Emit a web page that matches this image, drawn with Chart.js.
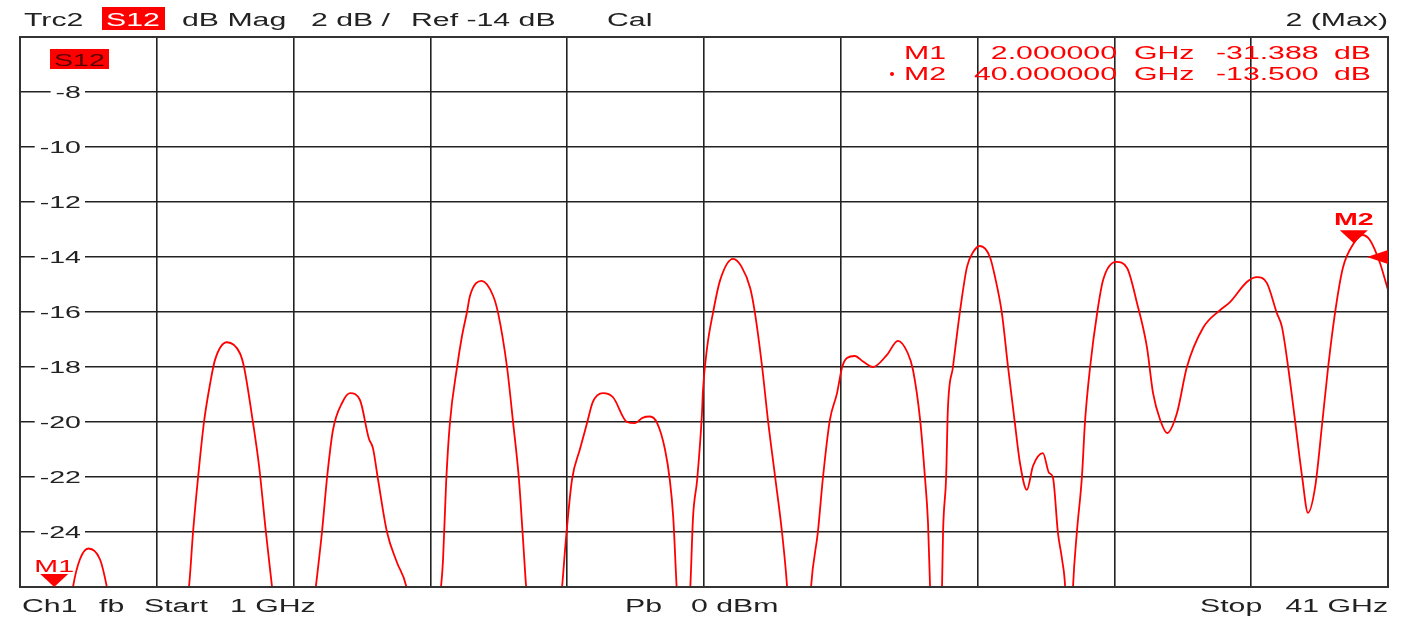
<!DOCTYPE html>
<html>
<head>
<meta charset="utf-8">
<title>Trc2 S12 dB Mag</title>
<script src="https://cdn.jsdelivr.net/npm/chart.js@4.4.1/dist/chart.umd.min.js"></script>
<style>
  html, body { margin: 0; padding: 0; background: #fff; }
  #wrap { width: 1403px; height: 617px; }
</style>
</head>
<body>
<div id="wrap"><canvas id="vna" width="1403" height="617"></canvas></div>
<script>
// sweep: 1 .. 41 GHz, S12 in dB (points below -26 dB are off the bottom of the screen)
const freqGHz = [
  1.0, 2.0, 2.55, 2.75, 3.0, 3.34, 3.54, 4.6,
  5.94, 6.06, 6.20, 6.38, 6.56, 6.70, 7.05, 7.43, 7.55, 7.81, 7.99, 8.19, 8.37, 9.0,
  9.65, 9.83, 9.98, 10.15, 10.42, 10.65, 10.94, 11.2, 11.32, 11.47, 11.73, 12.02, 12.3, 12.8,
  13.31, 13.37, 13.46, 13.57, 13.78, 13.92, 14.07, 14.16, 14.5, 14.83, 14.98, 15.24, 15.42, 15.59, 15.71, 15.8, 16.3,
  16.85, 16.96, 17.14, 17.37, 17.58, 17.75, 18.05, 18.34, 18.75, 18.98, 19.2, 19.42, 19.63, 19.86, 20.0, 20.1, 20.2, 20.4,
  20.6, 20.68, 20.8, 20.94, 20.97, 21.09, 21.26, 21.47, 21.85, 22.1, 22.35, 22.49, 22.7, 22.87, 23.08, 23.28, 23.43, 23.8,
  24.13, 24.33, 24.48, 24.68, 24.89, 25.04, 25.18, 25.41, 25.65, 25.94, 26.35, 26.67, 26.96, 27.11, 27.32, 27.46, 27.55, 27.61, 27.8,
  27.96, 27.99, 28.08, 28.13, 28.28, 28.49, 28.69, 28.87, 29.07, 29.36, 29.51, 29.71, 29.89, 30.09, 30.24, 30.44, 30.62, 30.91,
  31.09, 31.2, 31.35, 31.47, 31.56, 31.68,
  31.79, 31.9, 32.05, 32.14, 32.29, 32.5, 32.67, 33.05, 33.37, 33.66, 33.95, 34.13, 34.34, 34.54, 34.83, 35.12, 35.59,
  36.09, 36.38, 36.88, 37.17, 37.46, 37.75, 37.9, 38.08, 38.28, 38.49, 38.66, 38.87, 39.08, 39.25, 39.45, 39.68,
  40.0, 40.24, 40.47, 40.76, 41.0
];
const s12dB = [
  -33.0, -31.388, -26.0, -25.0, -24.6, -25.0, -26.0, -34.0,
  -26.0, -24.0, -22.1, -20.0, -18.6, -17.75, -17.1, -17.5, -18.0, -20.0, -21.6, -24.0, -26.0, -33.0,
  -26.0, -24.0, -22.0, -20.3, -19.3, -18.95, -19.2, -20.6, -20.95, -22.1, -24.0, -25.1, -26.0, -30.0,
  -26.0, -25.0, -22.2, -20.04, -18.0, -16.9, -16.0, -15.4, -14.87, -15.4, -16.04, -18.0, -20.04, -22.1, -24.3, -26.0, -32.0,
  -26.0, -24.3, -22.1, -21.0, -20.04, -19.27, -18.95, -19.1, -20.0, -20.04, -19.85, -19.8, -20.04, -21.0, -22.1, -23.45, -26.0, -30.0,
  -26.0, -23.45, -22.1, -19.7, -18.85, -17.3, -16.05, -14.85, -14.07, -14.36, -15.13, -16.04, -18.0, -19.93, -22.0, -24.0, -26.0, -34.0,
  -26.0, -24.0, -22.0, -19.93, -18.95, -18.0, -17.67, -17.6, -17.8, -18.0, -17.56, -17.05, -17.5, -18.1, -19.93, -22.0, -23.67, -26.0, -33.0,
  -26.0, -24.0, -22.0, -19.56, -18.0, -15.93, -14.36, -13.82, -13.6, -14.0, -14.73, -16.04, -18.0, -20.04, -21.5, -22.47, -21.6, -21.13,
  -21.85, -22.0, -24.04, -25.0, -26.0, -30.0,
  -26.0, -24.04, -22.0, -20.0, -18.0, -16.0, -14.84, -14.18, -14.4, -15.67, -17.27, -18.95, -19.93, -20.4, -19.67, -18.0, -16.58,
  -15.93, -15.64, -14.9, -14.73, -14.95, -16.04, -16.55, -18.0, -19.93, -22.0, -23.3, -22.36, -20.0, -18.0, -16.04, -14.4,
  -13.5, -13.2, -13.38, -14.2, -15.2
];

// scale setup: 2 dB / div, Ref -14 dB
const yTickLabels = [-8, -10, -12, -14, -16, -18, -20, -22, -24];
const refLevel = -14;

// markers
const markerNames = ['M1', 'M2'];
const markerFreqGHz = [2.0, 40.0];
const markerDb = [-31.388, -13.5];
const markerFreqText = ['2.000000', '40.000000'];
const markerDbText = ['-31.388', '-13.500'];
const activeMarker = 1;

const FONT = '"Liberation Sans", Arial, sans-serif';
const RED = '#ff0000';
const INK = '#222';
const STRETCH = 1.68; // the analyser font is much wider than Arial

function put(c, s, x, y, size, color, align, bold) {
  c.save();
  c.font = (bold ? 'bold ' : '') + size + 'px ' + FONT;
  c.fillStyle = color;
  c.textAlign = align || 'left';
  c.textBaseline = 'alphabetic';
  c.translate(x, y);
  c.scale(STRETCH, 1);
  c.fillText(s, 0, 0);
  c.restore();
}

function textWidth(c, s, size) {
  c.save();
  c.font = size + 'px ' + FONT;
  const w = c.measureText(s).width * STRETCH;
  c.restore();
  return w;
}

const screenText = {
  id: 'screenText',
  beforeDatasetsDraw(chart) {
    // y tick labels sit inside the grid, knocking out the line behind them
    const c = chart.ctx;
    const ys = chart.scales.y;
    ys.ticks.forEach(t => {
      if (!yTickLabels.includes(t.value)) return;
      const s = String(t.value);
      const py = ys.getPixelForValue(t.value);
      const w = textWidth(c, s, 17);
      c.fillStyle = '#fff';
      c.fillRect(81 - w - 5, py - 8, w + 9, 16);
      put(c, s, 81, py + 6, 17, INK, 'right');
    });
  },
  afterDraw(chart) {
    const c = chart.ctx;
    const a = chart.chartArea;
    const xs = chart.scales.x, ys = chart.scales.y;

    // outer frame
    c.save();
    c.strokeStyle = '#333';
    c.lineWidth = 2;
    c.strokeRect(a.left, a.top, a.right - a.left, a.bottom - a.top);
    c.restore();

    // header line
    put(c, 'Trc2', 24, 26, 18, INK);
    c.fillStyle = RED;
    c.fillRect(102, 7, 63, 23);
    put(c, 'S12', 106, 26, 18, '#fff');
    put(c, 'dB Mag', 182, 26, 18, INK);
    put(c, '2 dB /', 311, 26, 18, INK);
    put(c, 'Ref -14 dB', 411, 26, 18, INK);
    put(c, 'Cal', 607, 26, 18, INK);
    put(c, '2 (Max)', 1388, 26, 18, INK, 'right');

    // footer line
    put(c, 'Ch1', 22, 612, 18, INK);
    put(c, 'fb', 99, 612, 18, INK);
    put(c, 'Start', 144, 612, 18, INK);
    put(c, '1 GHz', 230, 612, 18, INK);
    put(c, 'Pb', 625, 612, 18, INK);
    put(c, '0 dBm', 691, 612, 18, INK);
    put(c, 'Stop', 1200, 612, 18, INK);
    put(c, '41 GHz', 1388, 612, 18, INK, 'right');

    // trace tag inside the grid
    c.fillStyle = RED;
    c.fillRect(a.left + 30, a.top + 12, 59, 20);
    put(c, 'S12', a.left + 34, a.top + 29, 17, '#5a0000');

    // marker readout
    markerNames.forEach((m, i) => {
      const y = 59 + i * 21;
      if (i === activeMarker) {
        c.fillStyle = RED;
        c.beginPath();
        c.arc(892, y - 6, 2, 0, Math.PI * 2);
        c.fill();
      }
      put(c, m, 904, y, 18, RED);
      put(c, markerFreqText[i], 1117, y, 18, RED, 'right');
      put(c, 'GHz', 1134, y, 18, RED);
      put(c, markerDbText[i], 1216, y, 18, RED);
      put(c, 'dB', 1334, y, 18, RED);
    });

    // marker triangles
    markerNames.forEach((m, i) => {
      const px = xs.getPixelForValue(markerFreqGHz[i]);
      const py = Math.min(ys.getPixelForValue(markerDb[i]), a.bottom);
      c.fillStyle = RED;
      c.beginPath();
      c.moveTo(px - 14, py - 13);
      c.lineTo(px + 14, py - 13);
      c.lineTo(px, py);
      c.closePath();
      c.fill();
      const bold = i === activeMarker;
      put(c, m, px, py - (bold ? 18 : 15), 17, RED, 'center', bold);
    });

    // reference level arrow on the right edge
    const ry = ys.getPixelForValue(refLevel);
    c.fillStyle = RED;
    c.beginPath();
    c.moveTo(a.right, ry - 7);
    c.lineTo(a.right, ry + 7);
    c.lineTo(a.right - 21, ry);
    c.closePath();
    c.fill();
  }
};

new Chart(document.getElementById('vna'), {
  type: 'line',
  data: {
    datasets: [{
      label: 'S12',
      data: freqGHz.map((f, i) => ({ x: f, y: s12dB[i] })),
      borderColor: RED,
      borderWidth: 1.8,
      pointRadius: 0,
      cubicInterpolationMode: 'monotone',
      clip: 0
    }]
  },
  options: {
    responsive: false,
    animation: false,
    layout: { padding: { left: 20, top: 37, right: 15, bottom: 30 } },
    plugins: { legend: { display: false }, tooltip: { enabled: false } },
    scales: {
      x: {
        type: 'linear', min: 1, max: 41,
        ticks: { stepSize: 4, display: false },
        grid: { color: INK, lineWidth: 1.6, drawTicks: false },
        border: { display: false },
        afterFit(s) { s.height = 0; s.paddingLeft = 0; s.paddingRight = 0; }
      },
      y: {
        type: 'linear', min: -26, max: -6,
        ticks: { stepSize: 2, display: false },
        grid: { color: INK, lineWidth: 1.6, drawTicks: false },
        border: { display: false },
        afterFit(s) { s.width = 0; s.paddingTop = 0; s.paddingBottom = 0; }
      }
    }
  },
  plugins: [screenText]
});
</script>
</body>
</html>
